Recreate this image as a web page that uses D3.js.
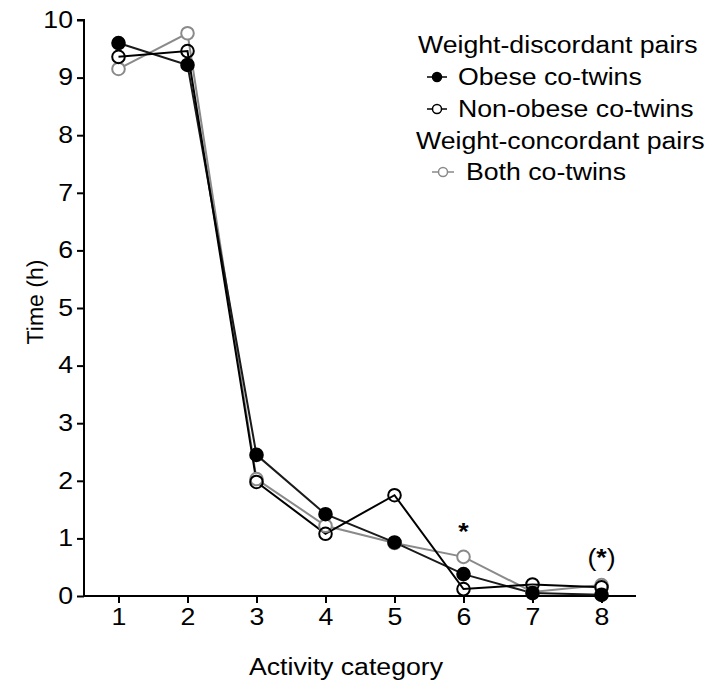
<!DOCTYPE html>
<html>
<head>
<meta charset="utf-8">
<script src="https://cdn.jsdelivr.net/npm/d3@7"></script>
<style>
  html, body { margin: 0; padding: 0; background: #fff; }
  svg { display: block; font-family: "Liberation Sans", Arial, sans-serif; }
  text { fill: #000; }
  .rot { text-rendering: geometricPrecision; -webkit-font-smoothing: antialiased; }
</style>
</head>
<body>
<svg id="chart" width="717" height="688"></svg>
<script>
// Activity categories (x) and mean time spent (hours) per group
const categories = [1, 2, 3, 4, 5, 6, 7, 8];
const obese      = [9.60, 9.22, 2.45, 1.42, 0.93, 0.38, 0.05, 0.02];
const nonObese   = [9.36, 9.46, 1.98, 1.08, 1.75, 0.12, 0.20, 0.15];
const concordant = [9.15, 9.77, 2.03, 1.22, 0.92, 0.68, 0.07, 0.19];
const yTicks = [0, 1, 2, 3, 4, 5, 6, 7, 8, 9, 10];
const annotations = [
  { cat: 6, value: 0.68, pre: "", star: "*", post: "", offset: 17 },
  { cat: 8, value: 0.19, pre: "(", star: "*", post: ")", offset: 19 }
];

const SX = 1.16; // horizontal stretch of the typeface
const FONT = 23;

const svg = d3.select("#chart");
const x = d3.scaleLinear().domain([0.5, 8.5]).range([84, 636]);
const y = d3.scaleLinear().domain([0, 10]).range([596, 20]);

// Axes
const yAxis = d3.axisLeft(y).tickValues(yTicks).tickSize(7).tickPadding(4).tickFormat(d3.format("d"));
const gy = svg.append("g").attr("transform", `translate(${x.range()[0]},0)`).call(yAxis);
const xAxis = d3.axisBottom(x).tickValues(categories).tickSize(7).tickPadding(6).tickFormat(d3.format("d"));
const gx = svg.append("g").attr("transform", `translate(0,${y(0)})`).call(xAxis);

[gy, gx].forEach(g => {
  g.select(".domain").attr("stroke", "#000").attr("stroke-width", 2);
  g.selectAll(".tick line").attr("stroke", "#000").attr("stroke-width", 2);
  g.selectAll(".tick text").attr("fill", "#000")
    .style("font-family", '"Liberation Sans", Arial, sans-serif')
    .style("font-size", FONT + "px");
});
gy.select(".domain").attr("d", `M0,${y(0)}V${y(10)}H-7`);
gx.select(".domain").attr("d", `M${x.range()[0]},0H${x.range()[1]}`);
gy.selectAll(".tick text").attr("transform", `scale(${SX},1)`).attr("x", -11 / SX);
gx.selectAll(".tick text").attr("transform", `scale(${SX},1)`).attr("text-anchor", "middle");

// Axis titles
svg.append("text")
  .attr("transform", `translate(346,667) scale(${SX},1)`)
  .attr("text-anchor", "middle").attr("dominant-baseline", "central")
  .attr("fill", "#000")
  .style("font-size", FONT + "px").text("Activity category");
svg.append("text")
  .attr("class", "rot")
  .attr("transform", `translate(35,302) rotate(-90)`)
  .attr("text-anchor", "middle").attr("dominant-baseline", "central")
  .attr("fill", "#000")
  .style("font-size", FONT + "px").text("Time (h)");

// Series
const series = [
  { name: "Both co-twins", values: concordant, stroke: "#8a8a8a", fill: "#fff" },
  { name: "Obese co-twins", values: obese, stroke: "#1a1a1a", fill: "#000" },
  { name: "Non-obese co-twins", values: nonObese, stroke: "#000", fill: "none" }
];
const line = d3.line().x((d, i) => x(categories[i])).y(d => y(d));

series.forEach(s => {
  svg.append("path").datum(s.values)
    .attr("d", line).attr("fill", "none")
    .attr("stroke", s.stroke).attr("stroke-width", 2);
});
series.forEach(s => {
  svg.append("g").selectAll("circle").data(s.values).join("circle")
    .attr("cx", (d, i) => x(categories[i])).attr("cy", d => y(d))
    .attr("r", 6.3).attr("fill", s.fill)
    .attr("stroke", s.fill === "#000" ? "#000" : s.stroke).attr("stroke-width", 2);
});

// Significance markers
const ann = svg.append("g").selectAll("text").data(annotations).join("text")
  .attr("transform", d => `translate(${x(d.cat)},${y(d.value) - d.offset}) scale(${SX},1)`)
  .attr("text-anchor", "middle")
  .attr("fill", "#000")
  .style("font-size", FONT + "px");
ann.append("tspan").text(d => d.pre);
ann.append("tspan").style("font-weight", "bold").text(d => d.star);
ann.append("tspan").text(d => d.post);

// Legend
const legend = svg.append("g");
const legendRows = [
  { type: "title", text: "Weight-discordant pairs", x: 418, y: 45 },
  { type: "item", text: "Obese co-twins", x: 458, y: 77, mx: 437, ml: 10, stroke: "#000", fill: "#000" },
  { type: "item", text: "Non-obese co-twins", x: 458, y: 109, mx: 437, ml: 10, stroke: "#000", fill: "#fff" },
  { type: "title", text: "Weight-concordant pairs", x: 416, y: 141 },
  { type: "item", text: "Both co-twins", x: 466, y: 172, mx: 443, ml: 11, stroke: "#8a8a8a", fill: "#fff" }
];
legendRows.forEach(r => {
  if (r.type === "item") {
    legend.append("line")
      .attr("x1", r.mx - r.ml).attr("x2", r.mx + r.ml)
      .attr("y1", r.y).attr("y2", r.y)
      .attr("stroke", r.stroke).attr("stroke-width", 1.5);
    legend.append("circle").attr("cx", r.mx).attr("cy", r.y).attr("r", 4.5)
      .attr("fill", r.fill).attr("stroke", r.stroke).attr("stroke-width", 1.5);
  }
  legend.append("text")
    .attr("transform", `translate(${r.x},${r.y}) scale(${SX},1)`)
    .attr("dominant-baseline", "central")
    .attr("fill", "#000")
    .style("font-size", FONT + "px")
    .text(r.text);
});
</script>
</body>
</html>
